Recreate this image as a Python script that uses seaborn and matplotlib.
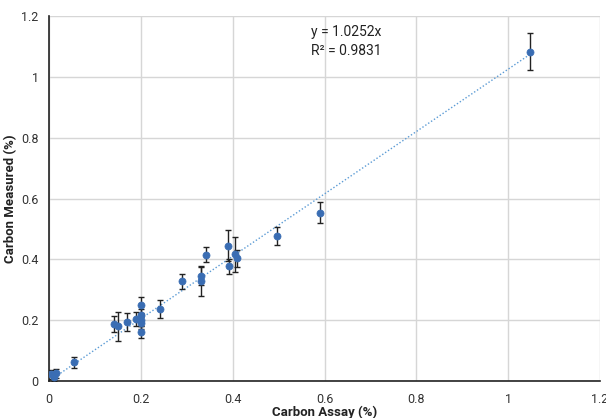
import matplotlib
matplotlib.use("Agg")
import matplotlib.pyplot as plt
import seaborn as sns
import numpy as np
import pandas as pd

assay = [0.004, 0.010, 0.015, 0.054, 0.141, 0.151, 0.170, 0.190, 0.200, 0.200, 0.200, 0.200, 0.200,
         0.241, 0.290, 0.330, 0.332, 0.341, 0.390, 0.391, 0.404, 0.410, 0.496, 0.590, 1.048]
measured = [0.022, 0.012, 0.025, 0.061, 0.188, 0.180, 0.193, 0.204, 0.250, 0.217, 0.200, 0.190, 0.160,
            0.237, 0.328, 0.328, 0.345, 0.415, 0.445, 0.377, 0.416, 0.403, 0.477, 0.553, 1.083]
err = [0.015, 0.012, 0.015, 0.018, 0.027, 0.047, 0.030, 0.022, 0.027, 0.020, 0.020, 0.020, 0.020,
       0.030, 0.025, 0.050, 0.030, 0.025, 0.050, 0.025, 0.058, 0.028, 0.030, 0.035, 0.062]
slope = 1.0252
r2 = 0.9831
xticks = [0, 0.2, 0.4, 0.6, 0.8, 1, 1.2]
yticks = [0, 0.2, 0.4, 0.6, 0.8, 1, 1.2]

df = pd.DataFrame({"assay": assay, "measured": measured, "err": err})

sns.set_style("white")
plt.rcParams["font.family"] = ["Roboto", "DejaVu Sans"]

fig = plt.figure(figsize=(6.06, 4.18), dpi=100)
ax = fig.add_axes([49/606, 1-381/418, 551/606, 365/418])

ax.grid(True, color="#d6d6d6", linewidth=1)
ax.set_axisbelow(True)

xs = np.array([0, max(assay)])
ax.plot(xs, slope*xs, linestyle=(0, (1, 1.5)), color="#5b9bd5", linewidth=1, zorder=1)

ax.errorbar(df["assay"], df["measured"], yerr=df["err"], fmt="none", ecolor="#222222",
            elinewidth=1, capsize=2.5, capthick=1, zorder=2)
sns.scatterplot(data=df, x="assay", y="measured", ax=ax, color="#3a6db3", s=26,
                edgecolor="#3a6db3", linewidth=0.5, zorder=3)

ax.set_xlim(0, 1.2)
ax.set_ylim(0, 1.2)
ax.set_xticks(xticks)
ax.set_yticks(yticks)
ax.set_xticklabels([f"{t:g}" for t in xticks])
ax.set_yticklabels([f"{t:g}" for t in yticks])
ax.tick_params(axis="x", length=0, labelsize=9, colors="#333333", pad=8.5)
ax.tick_params(axis="y", length=0, labelsize=9, colors="#333333", pad=7.5)

for s in ["top", "right"]:
    ax.spines[s].set_visible(False)
for s in ["left", "bottom"]:
    ax.spines[s].set_color("#222222")
    ax.spines[s].set_linewidth(1.2)

ax.set_xlabel("Carbon Assay (%)", fontsize=9.5, fontweight="bold", color="#222222")
ax.set_ylabel("Carbon Measured (%)", fontsize=9.5, fontweight="bold", color="#222222")
ax.xaxis.set_label_coords(0.5, -(412 - 381) / 365)
ax.xaxis.label.set_va("center")
ax.yaxis.set_label_coords(-(49 - 11) / 551, 0.5)
ax.yaxis.label.set_va("center")

ax.text(0.57, 1.115, f"y = {slope}x\nR² = {r2}", fontsize=10, color="#222222",
        va="center", ha="left", linespacing=1.45)

fig.savefig("out.png", dpi=100)
